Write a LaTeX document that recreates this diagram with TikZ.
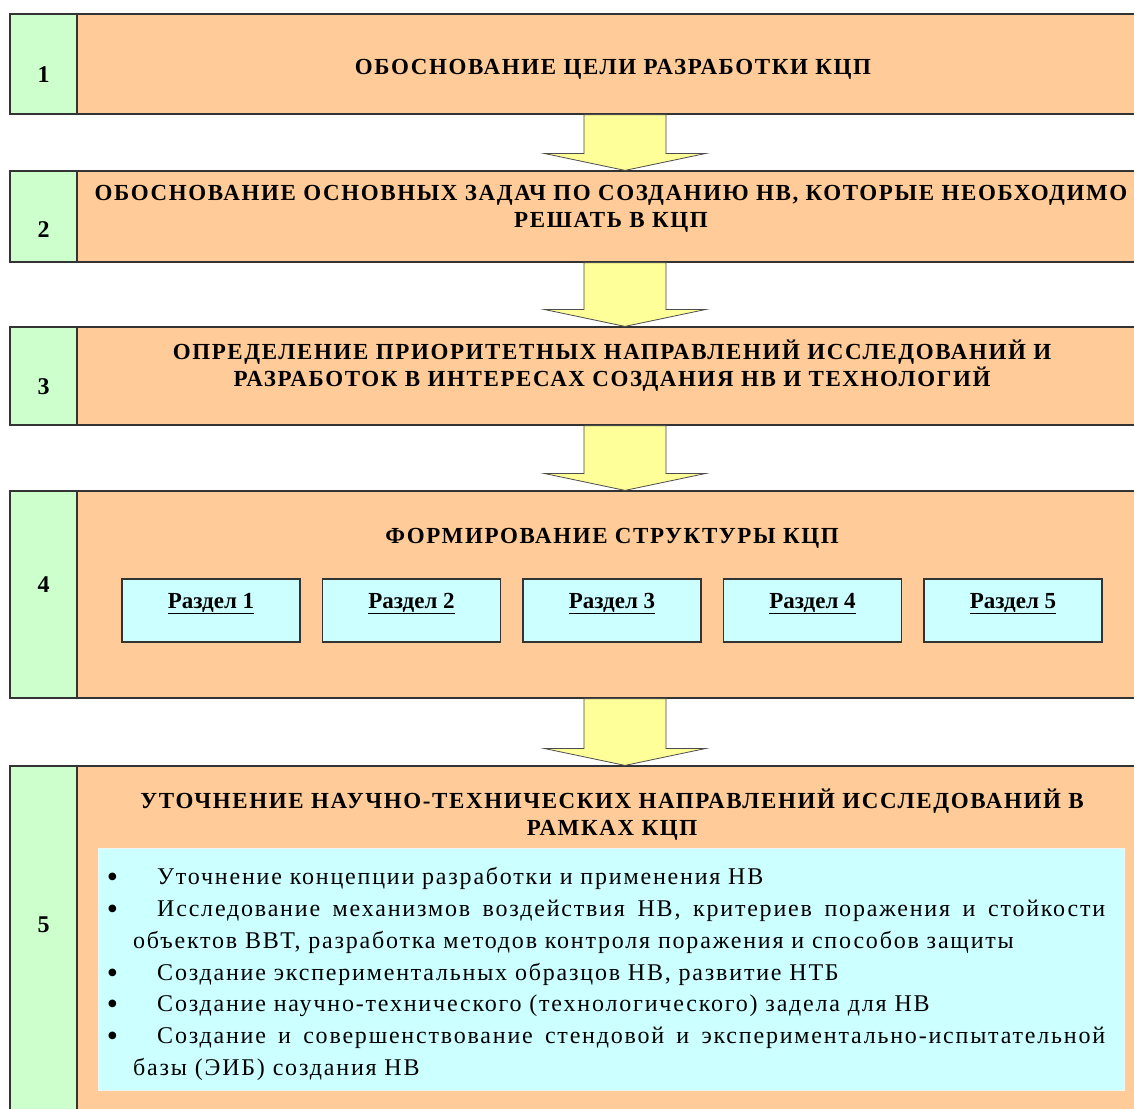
\documentclass[tikz,border=0pt]{standalone}
\usepackage{fontspec}
\setmainfont{Liberation Serif}
\newfontfamily\headfont[LetterSpace=7]{Liberation Serif}
\newfontfamily\itemfont[LetterSpace=7.5]{Liberation Serif}
\usetikzlibrary{positioning}
\usetikzlibrary{calc}
\definecolor{rowfill}{RGB}{255,204,153}
\definecolor{numfill}{RGB}{204,255,204}
\definecolor{secfill}{RGB}{204,255,255}
\definecolor{arrowfill}{RGB}{255,255,153}
\tikzset{rowbox/.style = {draw = black!80, line width = 1.2pt, fill = rowfill,
                          minimum width = 1069pt, inner sep = 0}}
\tikzset{numbox/.style = {draw = black!80, line width = 1.2pt, fill = numfill,
                          minimum width = 67pt, inner sep = 0}}
\tikzset{secbox/.style = {draw = black!80, line width = 1.2pt, fill = secfill,
                          minimum width = 178pt, minimum height = 63pt, inner sep = 0,
                          text height = 15pt, text depth = 20pt,
                          font = \fontsize{23}{27}\selectfont\bfseries}}
\tikzset{listbox/.style = {fill = secfill, draw = secfill!80!black!20!white, inner sep = 0}}
\tikzset{head/.style = {font = \fontsize{23}{27}\selectfont\headfont\bfseries,
                        align = center, inner sep = 0}}
\tikzset{numtext/.style = {font = \fontsize{24}{28}\selectfont\bfseries, inner sep = 0}}
\tikzset{listtext/.style = {font = \fontsize{24}{31.7}\selectfont\itemfont,
                            text width = 972pt, align = justify, inner sep = 0}}
\tikzset{blockarrow/.style = {fill = arrowfill, draw = black!70, line width = 0.8pt,
                              line join = miter}}
\newcommand\itm{\par\noindent\hspace*{24pt}%
  \llap{\raisebox{-3pt}{\fontsize{32}{32}\selectfont\textbullet}\hspace{39pt}}}

\begin{document}
\begin{tikzpicture}[x=1pt, y=-1pt]
      \clip (0, 0) rectangle (1134, 1108);
      \fill [white] (0, 0) rectangle (1134, 1108);

      \node [rowbox, minimum height = 100pt] (r1) at (611.5, 64) {};
      \node [numbox, minimum height = 100pt] (n1) at (43.5, 64) {};
      \node [rowbox, minimum height = 91pt] (r2) at (611.5, 216.5) {};
      \node [numbox, minimum height = 91pt] (n2) at (43.5, 216.5) {};
      \node [rowbox, minimum height = 98pt] (r3) at (611.5, 376) {};
      \node [numbox, minimum height = 98pt] (n3) at (43.5, 376) {};
      \node [rowbox, minimum height = 207pt] (r4) at (611.5, 594.5) {};
      \node [numbox, minimum height = 207pt] (n4) at (43.5, 594.5) {};
      \node [rowbox, minimum height = 380pt] (r5) at (611.5, 956) {};
      \node [numbox, minimum height = 380pt] (n5) at (43.5, 956) {};

      \node [numtext] (k1) at (43.5, 75) {1};
      \node [numtext] (k2) at (43.5, 230) {2};
      \node [numtext] (k3) at (43.5, 387) {3};
      \node [numtext] (k4) at (43.5, 585) {4};
      \node [numtext] (k5) at (43.5, 925) {5};

      \node [head] (t1) at (613, 69) {ОБОСНОВАНИЕ ЦЕЛИ РАЗРАБОТКИ КЦП};
      \node [head] (t2) at (611, 209)
        {ОБОСНОВАНИЕ ОСНОВНЫХ ЗАДАЧ ПО СОЗДАНИЮ НВ, КОТОРЫЕ НЕОБХОДИМО\\РЕШАТЬ В КЦП};
      \node [head] (t3) at (612, 366)
        {ОПРЕДЕЛЕНИЕ ПРИОРИТЕТНЫХ НАПРАВЛЕНИЙ ИССЛЕДОВАНИЙ И\\РАЗРАБОТОК В ИНТЕРЕСАХ СОЗДАНИЯ НВ И ТЕХНОЛОГИЙ};
      \node [head] (t4) at (612, 538) {ФОРМИРОВАНИЕ СТРУКТУРЫ КЦП};
      \node [head] (t5) at (612, 815)
        {УТОЧНЕНИЕ НАУЧНО-ТЕХНИЧЕСКИХ НАПРАВЛЕНИЙ ИССЛЕДОВАНИЙ В\\РАМКАХ КЦП};

      % sections of the programme
      \foreach \i/\x in {1/211, 2/411.5, 3/612, 4/812.5, 5/1013}
        \node [secbox] (s\i) at (\x, 610.5) {\underline{Раздел \i}};

      \node [listbox, minimum width = 1026pt, minimum height = 242pt] (lst) at (611, 969) {};
      \node [listtext, anchor = north west] (items) at (133, 853)
        {\itm Уточнение концепции разработки и применения НВ
         \itm Исследование механизмов воздействия НВ, критериев поражения и стойкости\linebreak
         объектов ВВТ, разработка методов контроля поражения и способов защиты
         \itm Создание экспериментальных образцов НВ, развитие НТБ
         \itm Создание научно-технического (технологического) задела для НВ
         \itm Создание и совершенствование стендовой и экспериментально-испытательной\linebreak
         базы (ЭИБ) создания НВ};

      % block arrows between the steps
      \coordinate (mid) at (625, 0);
      \foreach \a/\b in {1/2, 2/3, 3/4, 4/5} {
        \path (r\a.south -| mid) coordinate (top) (r\b.north -| mid) coordinate (tip);
        \draw [blockarrow] ([xshift = -41pt]top) -- ([xshift = -41pt, yshift = 17pt]tip)
          -- ([xshift = -81pt, yshift = 17pt]tip) -- (tip)
          -- ([xshift = 81pt, yshift = 17pt]tip) -- ([xshift = 41pt, yshift = 17pt]tip)
          -- ([xshift = 41pt]top) -- cycle;
      }
\end{tikzpicture}
\end{document}
